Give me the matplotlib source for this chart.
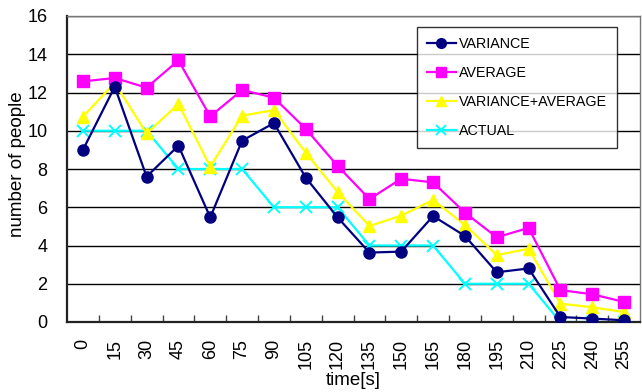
import matplotlib
matplotlib.use("Agg")
import matplotlib.pyplot as plt

plt.rcParams['font.family'] = ['Liberation Sans', 'DejaVu Sans']

times = ["0", "15", "30", "45", "60", "75", "90", "105", "120", "135",
         "150", "165", "180", "195", "210", "225", "240", "255"]
variance = [9.0, 12.3, 7.6, 9.22, 5.47, 9.48, 10.4, 7.55, 5.47, 3.63,
            3.68, 5.54, 4.5, 2.6, 2.8, 0.26, 0.18, 0.09]
average = [12.58, 12.76, 12.25, 13.68, 10.75, 12.13, 11.73, 10.1, 8.16, 6.43,
           7.49, 7.3, 5.72, 4.43, 4.92, 1.67, 1.45, 1.05]
var_avg = [10.74, 12.5, 9.86, 11.4, 8.12, 10.79, 11.08, 8.85, 6.8, 5.02,
           5.56, 6.38, 5.07, 3.5, 3.83, 0.96, 0.77, 0.52]
actual = [10, 10, 10, 8, 8, 8, 6, 6, 6, 4, 4, 4, 2, 2, 2, 0, 0, 0]

fig = plt.figure(figsize=(6.42, 3.92), dpi=100)
ax = fig.add_axes([67/642, (392-322)/392, (640-67)/642, (322-16)/392])

x = list(range(len(times)))
ax.plot(x, variance, color='#000080', marker='o', markersize=8, lw=1.6,
        label='VARIANCE', zorder=5)
ax.plot(x, average, color='#FF00FF', marker='s', markersize=8, lw=1.6,
        label='AVERAGE', zorder=4)
ax.plot(x, var_avg, color='#FFFF00', marker='^', markersize=9, lw=1.6,
        label='VARIANCE+AVERAGE', zorder=3)
ax.plot(x, actual, color='#00FFFF', marker='x', markersize=8, mew=1.4, lw=1.6,
        label='ACTUAL', zorder=2)

ax.set_xlim(-0.5, len(times) - 0.5)
ax.set_ylim(0, 16)
ax.set_yticks(range(0, 17, 2))
ax.yaxis.grid(True, color='black', lw=1.0)
ax.set_axisbelow(True)

ax.set_xticks(x)
ax.set_xticklabels(times, rotation=90, fontsize=13)
ax.tick_params(axis='x', which='major', length=0, pad=12)
ax.set_xticks([i + 0.5 for i in range(len(times) - 1)], minor=True)
ax.tick_params(axis='x', which='minor', direction='in', length=5, width=1, color='#444444')
ax.tick_params(axis='y', length=0, pad=14, labelsize=13)

for s in ['left', 'bottom']:
    ax.spines[s].set_color('#222222')
    ax.spines[s].set_linewidth(1.6)
for s in ['right', 'top']:
    ax.spines[s].set_color('#777777')
    ax.spines[s].set_linewidth(1.0)

ax.set_ylabel('number of people', fontsize=13.5)
ax.yaxis.set_label_coords(-0.072, 0.516)
ax.set_xlabel('time[s]', fontsize=13.5, labelpad=2)

leg = ax.legend(loc='upper left', bbox_to_anchor=(0.611, 0.964), borderaxespad=0,
                fontsize=10.3, frameon=True, fancybox=False, labelspacing=1.04,
                handlelength=2.0, handletextpad=0.25, borderpad=0.7)
leg.get_frame().set_edgecolor('black')
leg.get_frame().set_linewidth(1.0)
for h in leg.legend_handles:
    h.set_markersize(7)

fig.savefig('out.png', dpi=100)
